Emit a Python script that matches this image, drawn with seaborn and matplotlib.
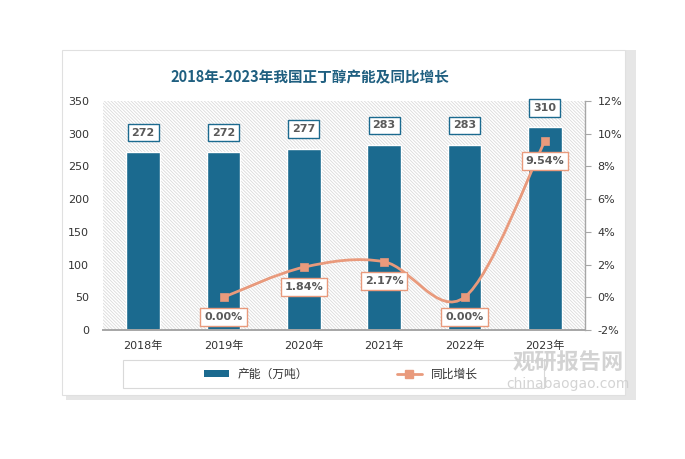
import matplotlib
matplotlib.use("Agg")
import matplotlib.pyplot as plt
import seaborn as sns
import pandas as pd
from matplotlib.path import Path
from matplotlib.patches import PathPatch, Rectangle
from matplotlib.lines import Line2D
from matplotlib.ticker import FuncFormatter

years = ["2018年", "2019年", "2020年", "2021年", "2022年", "2023年"]
capacity = [272, 272, 277, 283, 283, 310]
growth_years = ["2019年", "2020年", "2021年", "2022年", "2023年"]
growth = [0.00, 1.84, 2.17, 0.00, 9.54]

bar_color = "#1b6a8f"
line_color = "#e99a7c"
title_color = "#1f5f80"
text_gray = "#595959"

sns.set_theme(style="white")
plt.rcParams["font.family"] = ["DejaVu Sans", "Noto Sans CJK SC"]
plt.rcParams["hatch.color"] = "#dadada"
plt.rcParams["hatch.linewidth"] = 0.6

W, H = 685, 459
fig = plt.figure(figsize=(W / 100, H / 100), dpi=100)
fig.patch.set_facecolor("white")

def fx(px):
    return px / W

def fy(py):
    return 1 - py / H

# card with shadow
fig.patches.append(Rectangle((fx(66), fy(400)), fx(570), 350 / H, transform=fig.transFigure,
                             facecolor="#e6e6e6", edgecolor="none", zorder=-3))
fig.patches.append(Rectangle((fx(62), fy(395)), fx(563), 345 / H, transform=fig.transFigure,
                             facecolor="white", edgecolor="#e0e0e0", lw=0.8, zorder=-2))

ax = fig.add_axes([fx(103), fy(330), fx(585 - 103), (330 - 101) / H])
ax.patch.set_facecolor("white")
ax.patch.set_hatch("\\\\\\\\\\\\\\\\\\\\")
ax.patch.set_edgecolor("#dadada")
ax.patch.set_linewidth(0)

df = pd.DataFrame({"year": years, "capacity": capacity})
sns.barplot(data=df, x="year", y="capacity", color=bar_color, width=0.42,
            edgecolor="white", linewidth=1, saturation=1, ax=ax, zorder=2)
ax.set_ylim(0, 350)
ax.set_yticks(range(0, 351, 50))
ax.set_xlim(-0.5, 5.5)
ax.set_xlabel("")
ax.set_ylabel("")
ax.tick_params(axis="x", length=0, pad=8, labelsize=8, colors="#333333")
ax.tick_params(axis="y", length=0, pad=10, labelsize=8, colors="#333333")
for s in ["top", "left", "right"]:
    ax.spines[s].set_visible(False)
ax.spines["bottom"].set_color("#a6a6a6")
ax.spines["bottom"].set_linewidth(1.4)

for i, v in enumerate(capacity):
    ax.annotate(f"{v}", (i, v), xytext=(0, 14), textcoords="offset points",
                ha="center", va="center", fontsize=8, fontweight="bold", color=text_gray,
                bbox=dict(boxstyle="square,pad=0.35", fc="white", ec=bar_color, lw=1), zorder=5)

ax2 = ax.twinx()
ax2.set_ylim(-2, 12)
ax2.set_yticks(range(-2, 13, 2))
ax2.yaxis.set_major_formatter(FuncFormatter(lambda v, p: f"{int(v)}%"))
ax2.tick_params(axis="y", length=4, width=0.8, color="#a6a6a6", pad=5, labelsize=8,
                labelcolor="#333333")
for s in ["top", "left", "bottom"]:
    ax2.spines[s].set_visible(False)
ax2.spines["right"].set_color("#a6a6a6")
ax2.spines["right"].set_linewidth(1)

# smoothed line (Catmull-Rom style bezier through the data points)
xs = [years.index(y) for y in growth_years]
pts = list(zip(xs, growth))
verts = [pts[0]]
codes = [Path.MOVETO]
for k in range(len(pts) - 1):
    p0 = pts[k - 1] if k > 0 else pts[k]
    p1 = pts[k]
    p2 = pts[k + 1]
    p3 = pts[k + 2] if k + 2 < len(pts) else pts[k + 1]
    c1 = (p1[0] + (p2[0] - p0[0]) / 6, p1[1] + (p2[1] - p0[1]) / 6)
    c2 = (p2[0] - (p3[0] - p1[0]) / 6, p2[1] - (p3[1] - p1[1]) / 6)
    verts += [c1, c2, p2]
    codes += [Path.CURVE4] * 3
ax2.add_patch(PathPatch(Path(verts, codes), fc="none", ec=line_color, lw=2, zorder=3))
sns.scatterplot(x=xs, y=growth, marker="s", s=36, color=line_color, edgecolor=line_color,
                ax=ax2, zorder=4)
ax2.set_xlim(-0.5, 5.5)

for x, v in zip(xs, growth):
    ax2.annotate(f"{v:.2f}%", (x, v), xytext=(0, -14), textcoords="offset points",
                 ha="center", va="center", fontsize=8, fontweight="bold", color=text_gray,
                 bbox=dict(boxstyle="square,pad=0.35", fc="white", ec=line_color, lw=1), zorder=6)

fig.text(fx(310), fy(77), "2018年-2023年我国正丁醇产能及同比增长", ha="center", va="center",
         fontsize=10.5, fontweight="bold", color=title_color, family=["Noto Sans CJK SC"])

# legend
fig.patches.append(Rectangle((fx(123), fy(388)), fx(421), 28 / H, transform=fig.transFigure,
                             facecolor="white", edgecolor="#d9d9d9", lw=0.8, zorder=-1))
handles = [Rectangle((0, 0), 1, 1, fc=bar_color, ec="none"),
           Line2D([0], [0], color=line_color, lw=2, marker="s", markersize=6)]
leg = fig.legend(handles, ["产能（万吨）", "同比增长"], loc="center",
                 bbox_to_anchor=(fx(341), fy(374)), ncol=2, frameon=False,
                 handlelength=2.1, handleheight=0.5, columnspacing=7.5,
                 prop={"family": ["Noto Sans CJK SC"], "size": 8.5})
for t in leg.get_texts():
    t.set_color("#333333")

# watermark
fig.text(fx(568), fy(363), "观研报告网", ha="center", va="center", fontsize=16, fontweight="bold",
         color="#cfcfcf", family=["Noto Sans CJK SC"], alpha=0.9)
fig.text(fx(568), fy(384), "chinabaogao.com", ha="center", va="center", fontsize=10,
         color="#cfcfcf", alpha=0.9)

fig.savefig("out.png", dpi=100)
